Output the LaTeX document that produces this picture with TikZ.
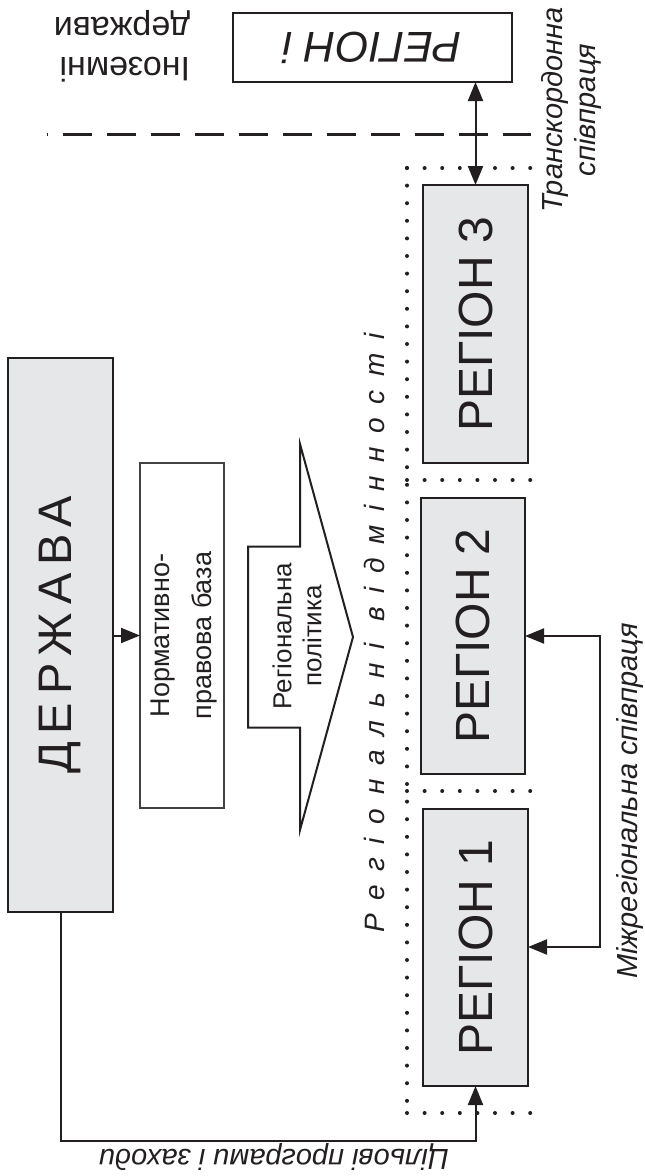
\documentclass[tikz,border=0pt]{standalone}
\usepackage{fontspec}
\setmainfont{Liberation Sans}
\usepackage{graphicx}
\usetikzlibrary{arrows.meta}
\definecolor{ink}{HTML}{231F20}
\definecolor{boxgray}{HTML}{E6E7E8}
\newcommand{\fs}[2]{\fontsize{#1}{#2}\selectfont}
\begin{document}
\begin{tikzpicture}[x=1pt,y=-1pt,
  every node/.style={inner sep=0pt, outer sep=0pt, text=ink},
  greybox/.style={draw=ink, fill=boxgray, line width=2.6pt, anchor=north west},
  whitebox/.style={draw=ink, fill=white, line width=2.4pt, anchor=north west},
  thinbox/.style={draw=ink!85, fill=white, line width=1.2pt, anchor=north west},
  conn/.style={draw=ink, line width=2pt, -{Triangle[length=19pt,width=15pt]}},
  conn2/.style={draw=ink, line width=2pt, {Triangle[length=19pt,width=15pt]}-{Triangle[length=19pt,width=15pt]}},
  dots/.style={draw=ink, line width=4pt, line cap=round, dash pattern=on 0pt off 17.6pt},
  border/.style={draw=ink, line width=3pt, dash pattern=on 29pt off 15pt, dash phase=28pt},
  lbl/.style={font=\fs{29}{33}\itshape},
]
\useasboundingbox (0,0) rectangle (645,1176);

% dotted frame of regional differences
\draw[dots] (407,168) -- (407,1113);
\foreach \yy in {168,480,791,1113} \draw[dots] (407,\yy) -- (536,\yy);

% state border
\draw[border] (47,134) -- (531,134);

% boxes
\node[greybox, minimum width=105pt, minimum height=554pt] (derzh) at (8,358)
  {\rotatebox{90}{\fs{47}{55}\addfontfeature{LetterSpace=17}ДЕРЖАВА}};
\node[thinbox, minimum width=84pt, minimum height=345pt] (norm) at (140,463)
  {\rotatebox{90}{\fs{27}{42}\begin{tabular}{@{}c@{}}Нормативно-\\правова база\end{tabular}}};
\node[whitebox, minimum width=279pt, minimum height=69pt] (ri) at (233,13)
  {\rotatebox{180}{\fs{43}{50}\itshape РЕГІОН і}};
\node[greybox, minimum width=105pt, minimum height=278pt] (r3) at (423,185)
  {\rotatebox{90}{\fs{48}{55}РЕГІОН 3}};
\node[greybox, minimum width=104pt, minimum height=276pt] (r2) at (421,498)
  {\rotatebox{90}{\fs{48}{55}РЕГІОН 2}};
\node[greybox, minimum width=105pt, minimum height=277pt] (r1) at (423,809)
  {\rotatebox{90}{\fs{48}{55}РЕГІОН 1}};

% regional policy arrow
\draw[draw=ink, line width=2pt, fill=white] (248,546.5) -- (300,546.5) -- (300,444) -- (353,637)
  -- (300,830) -- (300,727.5) -- (248,727.5) -- cycle;
\node[rotate=90, align=center, font=\fs{26}{30}] (pol) at (297,636) {Регіональна\\політика};

% connectors
\draw[conn] (derzh.east |- norm.west) -- (norm.west);
\draw[conn2] (ri.south -| r3.north) -- (r3.north);
\coordinate (m2) at (600,636);
\coordinate (m1) at (600,947);
\draw[conn2] (r2.east |- m2) -- (m2) -- (m1) -- (r1.east |- m1);
\coordinate (c1) at (61,1141);
\coordinate (c2) at (r1.south |- c1);
\draw[conn] (derzh.south -| c1) -- (c1) -- (c2) -- (r1.south);

% labels
\node[lbl, rotate=90, align=center] (trans) at (571,110) {Транскордонна\\співпраця};
\node[lbl, rotate=90, anchor=base] (mizh) at (637,801) {Міжрегіональна співпраця};
\node[lbl, rotate=180, anchor=base] (cil) at (274,1149) {Цільові програми і заходи};
\node[font=\fs{34}{40}, rotate=180, align=left] (inoz) at (122,46) {Іноземні\\держави};
\node[rotate=90, anchor=base, font=\fs{28}{32}\itshape\addfontfeature{LetterSpace=49}] (rv) at (384,633)
  {Регіональні відмінності};
\end{tikzpicture}
\end{document}
